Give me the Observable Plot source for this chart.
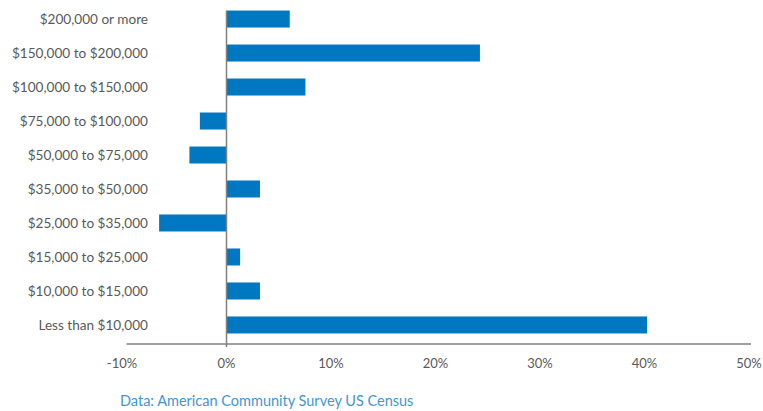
<!DOCTYPE html>
<html>
<head>
<meta charset="utf-8">
<script src="https://cdn.jsdelivr.net/npm/d3@7"></script>
<script src="https://cdn.jsdelivr.net/npm/@observablehq/plot@0.6"></script>
<style>
  body { margin: 0; background: #fff; font-family: Lato, "Open Sans", sans-serif; }
  #chart svg { display: block; }
  .caption { margin: 14px 0 0 120px; font-size: 14.5px; color: #3f97d4; font-family: Lato, "Open Sans", sans-serif; }
</style>
</head>
<body>
<div id="chart"></div>
<div class="caption">Data: American Community Survey US Census</div>
<script>
const categories = [
  "$200,000 or more",
  "$150,000 to $200,000",
  "$100,000 to $150,000",
  "$75,000 to $100,000",
  "$50,000 to $75,000",
  "$35,000 to $50,000",
  "$25,000 to $35,000",
  "$15,000 to $25,000",
  "$10,000 to $15,000",
  "Less than $10,000"
];
const values = [6.1, 24.3, 7.6, -2.5, -3.5, 3.25, -6.4, 1.35, 3.25, 40.3];
const xTicks = [-10, 0, 10, 20, 30, 40, 50];

const data = categories.map((c, i) => ({category: c, value: values[i]}));

const baseline = (index, scales, values, dims) => {
  const y = dims.height - dims.marginBottom;
  const line = document.createElementNS("http://www.w3.org/2000/svg", "line");
  line.setAttribute("x1", scales.x(-10) + 5);
  line.setAttribute("x2", scales.x(50) + 2.5);
  line.setAttribute("y1", y);
  line.setAttribute("y2", y);
  line.setAttribute("stroke", "#808080");
  line.setAttribute("stroke-width", 1.5);
  return line;
};

const chart = Plot.plot({
  width: 763,
  height: 378,
  marginTop: 0,
  marginBottom: 34,
  marginLeft: 121.5,
  marginRight: 14.5,
  style: {fontFamily: "Lato, 'Open Sans', sans-serif", fontSize: "13px", color: "#595959", background: "#fff"},
  x: {domain: [-10, 50]},
  y: {domain: categories, paddingInner: 0.5, paddingOuter: 0.31, round: false},
  marks: [
    Plot.barX(data, {x: "value", y: "category", fill: "#0077c1"}),
    baseline,
    Plot.ruleX([0], {stroke: "#808080", strokeWidth: 1.5, insetTop: 11, insetBottom: -3}),
    Plot.axisX({ticks: xTicks, tickFormat: d => d + "%", tickSize: 0, tickPadding: 14, label: null, fill: "#595959", fontSize: 13}),
    Plot.axisY({tickSize: 0, tickPadding: -26, label: null, fill: "#595959", fontSize: 13.6})
  ]
});
document.getElementById("chart").appendChild(chart);
</script>
</body>
</html>
